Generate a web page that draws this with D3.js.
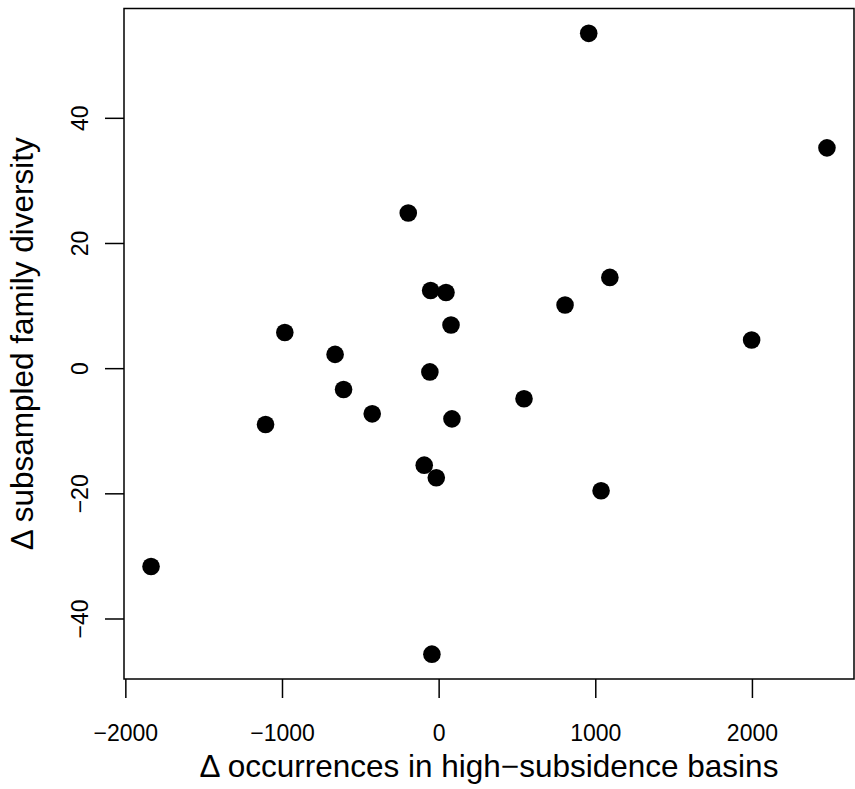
<!DOCTYPE html>
<html lang="en">
<head>
    <meta charset="UTF-8">
    <title>Occurrences vs diversity</title>
    <script src="https://cdnjs.cloudflare.com/ajax/libs/d3/7.8.5/d3.min.js"></script>
    <style>
        body { margin: 0; background: #fff; font-family: "Liberation Sans", Arial, sans-serif; }
    </style>
</head>
<body>
    <div id="chart"></div>

    <script>
        // change in occurrences in high-subsidence basins
        var occurrences = [958, 2479, -194, -51, 47, 1093, 807, 79, 1998, -56, 545,
                           85, -92, -15, 1037, -43, -982, -661, -607, -424, -1105, -1836];
        // change in subsampled family diversity
        var diversity = [53.5, 35.2, 24.8, 12.4, 12.1, 14.5, 10.1, 6.9, 4.5, -0.6, -4.9,
                         -8.1, -15.5, -17.5, -19.6, -45.7, 5.7, 2.2, -3.4, -7.3, -9.0, -31.7];
        var xTicks = [-2000, -1000, 0, 1000, 2000];
        var yTicks = [-40, -20, 0, 20, 40];

        var W = 855, H = 789;
        var margin = {top: 8.5, right: 1, bottom: 110, left: 124};
        var width = W - margin.left - margin.right,
            height = H - margin.top - margin.bottom;

        var data = occurrences.map(function(d, i) { return {x: d, y: diversity[i]}; });

        // R-style 4% padding around the data range
        function padded(ext) {
            var p = (ext[1] - ext[0]) * 0.04;
            return [ext[0] - p, ext[1] + p];
        }

        var x = d3.scaleLinear()
            .domain(padded(d3.extent(occurrences)))
            .range([0, width]);
        var y = d3.scaleLinear()
            .domain(padded(d3.extent(diversity)))
            .range([height, 0]);

        var svg = d3.select("#chart").append("svg")
            .attr("width", W)
            .attr("height", H);
        var g = svg.append("g")
            .attr("transform", "translate(" + margin.left + "," + margin.top + ")");

        var fmt = d3.format("d");

        // x axis
        var xAxis = g.append("g")
            .attr("transform", "translate(0," + height + ")")
            .call(d3.axisBottom(x).tickValues(xTicks).tickSize(19).tickFormat(fmt));
        xAxis.select(".domain").remove();
        xAxis.selectAll("line").attr("stroke", "#000").attr("stroke-width", 1.5);
        xAxis.selectAll("text")
            .attr("y", 62).attr("dy", null)
            .attr("fill", "#000")
            .style("font-size", "23px")
            .style("font-family", "'Liberation Sans', Arial, sans-serif");

        // y axis, labels rotated like R's las = 0
        var yAxis = g.append("g")
            .call(d3.axisLeft(y).tickValues(yTicks).tickSize(19).tickFormat(fmt));
        yAxis.select(".domain").remove();
        yAxis.selectAll("line").attr("stroke", "#000").attr("stroke-width", 1.5);
        yAxis.selectAll("text")
            .attr("x", 0).attr("y", -35.7).attr("dy", null)
            .attr("transform", "rotate(-90)")
            .attr("text-anchor", "middle")
            .attr("fill", "#000")
            .style("font-size", "23px")
            .style("font-family", "'Liberation Sans', Arial, sans-serif");

        // box
        g.append("rect")
            .attr("x", 0).attr("y", 0)
            .attr("width", width).attr("height", height)
            .attr("fill", "none")
            .attr("stroke", "#000")
            .attr("stroke-width", 1.5);

        // points
        g.selectAll(".dot")
            .data(data)
            .enter().append("circle")
            .attr("class", "dot")
            .attr("cx", function(d) { return x(d.x); })
            .attr("cy", function(d) { return y(d.y); })
            .attr("r", 8.8)
            .attr("fill", "#000");

        // axis titles
        svg.append("text")
            .attr("x", margin.left + width / 2)
            .attr("y", 777)
            .attr("text-anchor", "middle")
            .style("font-size", "31.5px")
            .text("\u0394 occurrences in high\u2212subsidence basins");

        svg.append("text")
            .attr("transform", "translate(33," + (margin.top + height / 2) + ") rotate(-90)")
            .attr("text-anchor", "middle")
            .style("font-size", "31.5px")
            .text("\u0394 subsampled family diversity");
    </script>
</body>
</html>
